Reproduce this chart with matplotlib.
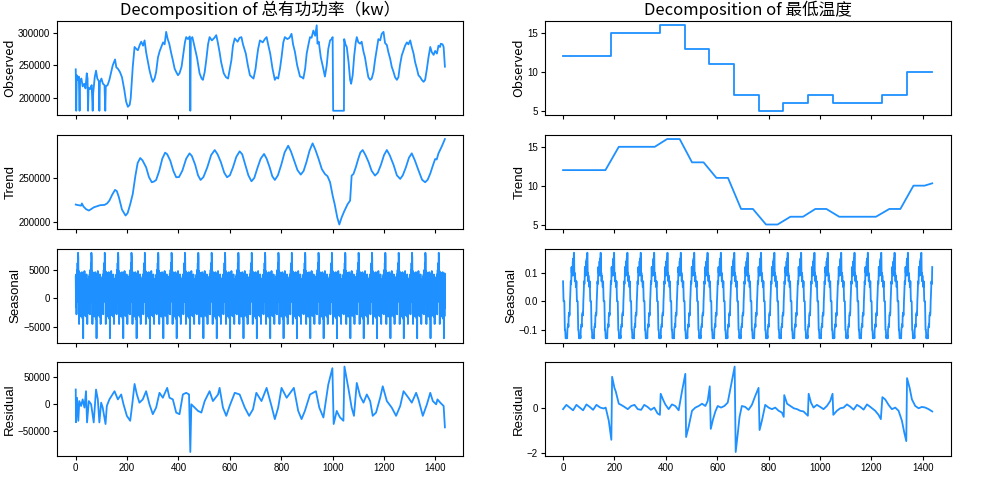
import numpy as np
import matplotlib
matplotlib.use('Agg')
import matplotlib.pyplot as plt

plt.rcParams['font.family'] = ['Liberation Sans', 'Noto Sans CJK SC', 'DejaVu Sans']
plt.rcParams['axes.unicode_minus'] = True
CJK = ['Noto Sans CJK SC', 'DejaVu Sans']
LINE_COLOR = 'dodgerblue'

N = 1438  # 样本数 (15 分钟一个点)
PERIOD = 52

# --- 总有功功率 (kw): 读图得到的关键点 ---
pw_obs_x = [0, 2, 4, 9, 12, 15, 17, 22, 27, 33, 38, 43, 46, 48, 50, 56, 62, 66, 68, 74,
            79, 84, 90, 92, 94, 100, 106, 112, 115, 117, 124, 131, 138, 144, 153, 158, 164, 172, 180, 189,
            196, 203, 210, 214, 222, 229, 236, 242, 250, 255, 262, 268, 274, 281, 287, 294, 300, 307, 313, 320,
            327, 333, 340, 346, 352, 358, 364, 372, 378, 385, 391, 398, 404, 412, 418, 425, 430, 437, 444, 446,
            448, 454, 464, 472, 482, 490, 495, 502, 508, 515, 521, 530, 540, 547, 553, 560, 566, 576, 585, 593,
            600, 606, 612, 619, 630, 638, 645, 651, 662, 670, 678, 686, 692, 700, 704, 710, 717, 728, 736, 743,
            750, 757, 766, 775, 781, 788, 795, 801, 808, 814, 824, 832, 840, 846, 853, 862, 873, 880, 886, 893,
            899, 906, 912, 918, 925, 932, 938, 941, 946, 954, 962, 970, 977, 983, 990, 996, 1000, 1002, 1044, 1045,
            1050, 1055, 1062, 1068, 1072, 1078, 1084, 1090, 1094, 1100, 1107, 1113, 1120, 1126, 1133, 1139, 1146, 1152, 1159, 1165,
            1172, 1178, 1185, 1191, 1198, 1204, 1211, 1217, 1224, 1230, 1237, 1243, 1250, 1256, 1262, 1269, 1276, 1282, 1289, 1295,
            1302, 1308, 1315, 1321, 1328, 1334, 1341, 1347, 1354, 1360, 1367, 1373, 1380, 1386, 1393, 1399, 1406, 1412, 1418, 1421,
            1428, 1432, 1437]
pw_obs_y = [244000, 181000, 235000, 228000, 233000, 181000, 226000, 230000, 218000, 222000, 215000, 238000, 230000, 181000, 216000, 214000, 220000, 181000, 208000, 232000,
            242000, 230000, 226000, 181000, 224000, 230000, 222000, 220000, 181000, 218000, 220000, 228000, 240000, 250000, 259000, 247000, 245000, 240000, 232000, 213000,
            195000, 187000, 190000, 200000, 248000, 278000, 275000, 273000, 282000, 286000, 280000, 288000, 270000, 255000, 243000, 232000, 225000, 230000, 240000, 262000,
            272000, 278000, 285000, 282000, 301000, 290000, 283000, 268000, 258000, 245000, 240000, 235000, 238000, 248000, 265000, 285000, 293000, 290000, 294000, 181000,
            290000, 293000, 276000, 262000, 238000, 230000, 228000, 240000, 258000, 282000, 293000, 288000, 292000, 296000, 285000, 270000, 255000, 238000, 232000, 230000,
            245000, 258000, 280000, 291000, 286000, 292000, 293000, 282000, 268000, 250000, 235000, 232000, 230000, 245000, 258000, 275000, 288000, 285000, 290000, 293000,
            280000, 268000, 245000, 228000, 232000, 230000, 245000, 262000, 285000, 293000, 290000, 292000, 298000, 282000, 271000, 250000, 233000, 232000, 230000, 245000,
            268000, 282000, 293000, 292000, 303000, 295000, 311000, 283000, 286000, 262000, 248000, 233000, 250000, 275000, 288000, 290000, 293000, 181000, 181000, 290000,
            282000, 278000, 255000, 228000, 222000, 235000, 265000, 285000, 293000, 285000, 283000, 286000, 271000, 262000, 245000, 232000, 228000, 230000, 240000, 258000,
            275000, 290000, 288000, 298000, 301000, 284000, 281000, 270000, 260000, 248000, 240000, 232000, 228000, 232000, 250000, 265000, 273000, 280000, 285000, 282000,
            288000, 278000, 268000, 255000, 245000, 235000, 232000, 228000, 225000, 228000, 245000, 262000, 278000, 270000, 266000, 272000, 268000, 280000, 278000, 283000,
            282000, 278000, 248000]

pw_trend_x = [0, 10, 21, 24, 30, 40, 51, 60, 70, 79, 95, 112, 122, 131, 142, 153, 160, 168, 180, 194,
              202, 212, 222, 232, 241, 251, 260, 274, 285, 296, 305, 313, 325, 337, 348, 356, 368, 380, 391, 402,
              415, 430, 443, 452, 465, 476, 486, 497, 512, 527, 541, 552, 565, 578, 589, 600, 612, 625, 638, 648,
              660, 672, 684, 695, 708, 720, 733, 743, 755, 765, 775, 787, 800, 813, 827, 838, 850, 863, 876, 887,
              898, 910, 922, 933, 945, 958, 970, 980, 990, 1000, 1008, 1018, 1026, 1035, 1045, 1058, 1068, 1074, 1081, 1090,
              1100, 1108, 1117, 1128, 1140, 1152, 1165, 1176, 1188, 1200, 1211, 1222, 1237, 1250, 1263, 1273, 1285, 1297, 1308, 1320,
              1335, 1348, 1360, 1370, 1380, 1390, 1399, 1405, 1412, 1425, 1437]
pw_trend_y = [219700, 219000, 218500, 221000, 217500, 214500, 212900, 214500, 216500, 217400, 219000, 219300, 221000, 224200, 231000, 236400, 235000, 228000, 214000, 207200,
              210000, 220000, 231800, 252000, 267000, 272700, 270000, 262100, 251000, 245100, 246000, 247700, 258000, 272000, 278800, 277000, 269700, 258000, 250800, 251000,
              258300, 272000, 278000, 275000, 265000, 253000, 247700, 251000, 262000, 276000, 281800, 277000, 268000, 256000, 250800, 253000, 262000, 274000, 280300, 277000,
              265000, 253000, 246200, 250000, 262000, 272000, 277300, 272000, 262000, 252000, 247700, 253000, 265000, 279000, 286700, 280000, 270000, 259000, 253800, 258000,
              268000, 281000, 289400, 282000, 272000, 260000, 254500, 252000, 245100, 230000, 220000, 205000, 197000, 205000, 212000, 220000, 224200, 252700, 254500, 262000,
              272000, 279000, 281800, 276000, 268000, 258000, 252700, 256000, 265000, 276000, 281800, 276000, 265000, 253000, 248900, 253000, 262000, 273000, 278000, 270000,
              258000, 248000, 245100, 248000, 255000, 264000, 271600, 271000, 278000, 286000, 294300]

# 一个周期 (52 点) 的季节项
pw_seasonal_cycle = [3800, -1500, 4200, -2800, 2500, 5000, -600, 6200, 3000, 8000,
                     7200, 1200, 4800, -4500, 2600, -2200, 4500, -2600, 3600, -1800,
                     4200, -3200, 2800, -1200, 4600, -2400, 3000, -3600, 1800, -7000,
                     2200, -1800, 4400, -3000, 4800, -1400, 3800, -2800, 3400, -2000,
                     2600, -3200, 4200, -1600, 3000, -4500, 2400, -2600, 3400, -1000,
                     2000, 1200]

pw_resid_x = [0, 1, 5, 10, 14, 21, 27, 34, 40, 44, 51, 60, 70, 79, 86, 92, 99, 105, 116, 121,
              131, 151, 164, 177, 186, 199, 212, 220, 229, 238, 248, 261, 274, 287, 300, 313, 326, 339, 356, 365,
              378, 391, 404, 417, 430, 441, 446, 450, 463, 476, 489, 502, 521, 534, 554, 560, 573, 586, 599, 619,
              638, 658, 675, 690, 703, 723, 743, 762, 775, 788, 801, 821, 849, 866, 879, 892, 912, 935, 948, 964,
              983, 999, 1004, 1016, 1022, 1029, 1042, 1046, 1061, 1074, 1083, 1094, 1107, 1120, 1133, 1146, 1156, 1169, 1185, 1195,
              1211, 1230, 1247, 1263, 1276, 1295, 1308, 1325, 1334, 1351, 1367, 1380, 1390, 1403, 1408, 1419, 1432, 1437]
pw_resid_y = [27000, -34000, 11700, -31300, 5500, -3700, 8600, -6700, 23900, -34400, 5500, -600, -34400, 27000, 8600, -34400, 2500, -6700, -37400, -3700,
              8600, 23900, 8600, 17800, -600, -22100, -31300, -600, 37400, 17800, 2500, 8600, 23900, -600, -19000, -6700, 20900, 11700, 30100, 11700,
              8600, -16000, -19000, 17800, 20900, 17800, -89600, -600, -6700, -12900, -16000, 5500, 23900, 5500, 17800, 30100, -6700, -22100, -3700, 20900,
              17800, -6700, -22100, -9800, 20900, 5500, 30100, -3700, -28200, -6700, 30100, 11700, 30100, -12900, -28200, -12900, 17800, 23900, -6700, -25200,
              36200, 66900, -37400, -12900, -19000, -25200, -31300, 69900, 30100, -6700, -22100, 39300, 14700, 2500, 17800, 5500, -22100, -16000, 11700, 33100,
              5500, -6700, -22100, -3700, 23900, 11700, 2500, 20900, 8600, -22100, -600, 20900, 5500, -600, 8600, 2500, -3700, -43600]

# --- 最低温度: 按天的阶梯值 ---
temp_edges = [0, 186, 378, 474, 570, 666, 762, 858, 954, 1050, 1242, 1338, 1437]
temp_levels = [12, 15, 16, 13, 11, 7, 5, 6, 7, 6, 7, 10]

temp_trend_x = [0, 165, 217, 357, 405, 454, 502, 547, 597, 642, 693, 739, 790, 835, 885, 934,
                982, 1025, 1075, 1218, 1270, 1313, 1364, 1407, 1437]
temp_trend_y = [12, 12, 15, 15, 16, 16, 13, 13, 11, 11, 7, 7, 5, 5, 6, 6,
                7, 7, 6, 6, 7, 7, 10, 10, 10.3]

temp_seasonal_cycle = [0.07, 0.03, 0.0, 0.0, 0.0, 0.0, -0.05, -0.10, -0.10, -0.11,
                       -0.13, -0.13, -0.12, -0.13, -0.13, -0.12, -0.13, -0.10, -0.09, -0.09,
                       -0.08, -0.09, -0.05, -0.05, -0.04, -0.05, -0.04, 0.0, 0.02, 0.05,
                       0.07, 0.06, 0.07, 0.12, 0.10, 0.12, 0.12, 0.09, 0.14, 0.10,
                       0.15, 0.11, 0.17, 0.17, 0.09, 0.10, 0.07, 0.09, 0.07, 0.07,
                       0.05, 0.05]

temp_resid_x = [0, 13, 26, 39, 52, 65, 78, 91, 104, 117, 130, 145, 158, 166, 178, 188, 191, 200, 205, 217,
                226, 239, 252, 265, 278, 291, 304, 316, 329, 342, 355, 368, 377, 380, 389, 398, 411, 424, 437, 450,
                454, 463, 476, 479, 489, 502, 515, 528, 541, 554, 563, 571, 575, 584, 593, 602, 615, 628, 641, 651,
                668, 672, 680, 687, 696, 709, 722, 735, 748, 761, 765, 774, 787, 800, 813, 826, 839, 852, 859, 861,
                872, 885, 898, 911, 923, 936, 953, 956, 965, 975, 988, 1001, 1014, 1027, 1040, 1049, 1052, 1066, 1079, 1092,
                1105, 1118, 1131, 1144, 1157, 1170, 1183, 1196, 1215, 1228, 1237, 1243, 1254, 1267, 1280, 1293, 1306, 1319, 1328, 1336,
                1339, 1349, 1358, 1371, 1384, 1397, 1410, 1423, 1437]
temp_resid_y = [-0.07, 0.12, 0.0, -0.12, 0.12, 0.0, -0.12, 0.14, 0.03, -0.10, 0.12, 0.0, -0.04, 0.0, -0.58, -1.42, 1.36, 0.87, 0.72, 0.17,
                0.12, 0.03, -0.07, 0.07, 0.12, -0.07, -0.10, 0.12, 0.03, -0.10, 0.0, -0.26, -0.32, 0.61, 0.36, 0.14, -0.07, 0.14, 0.07, -0.12,
                0.14, 0.72, 1.49, -1.30, -0.84, -0.14, 0.0, 0.07, 0.17, 0.07, 0.29, 0.94, -0.94, -0.51, -0.17, 0.07, 0.0, 0.07, 0.22, 0.80,
                1.81, -1.96, -1.16, -0.41, 0.07, 0.03, -0.10, 0.12, 0.51, 0.87, -0.99, -0.58, 0.12, 0.0, -0.07, 0.0, -0.14, -0.22, -0.41, 0.55,
                0.17, 0.07, -0.03, -0.07, -0.14, -0.17, -0.36, 0.61, 0.22, 0.0, 0.12, 0.03, -0.07, 0.07, 0.29, 0.61, -0.32, -0.14, -0.03, 0.0,
                0.14, 0.04, -0.09, 0.12, 0.03, -0.09, 0.14, 0.03, -0.14, -0.32, -0.51, 0.46, 0.36, 0.12, -0.07, 0.0, -0.14, -0.58, -1.09, -1.48,
                1.30, 0.87, 0.36, 0.07, -0.03, 0.03, 0.0, -0.07, -0.17]

t = np.arange(N)
reps = N // PERIOD + 1
pw_seasonal = np.tile(pw_seasonal_cycle, reps)[:N]
temp_seasonal = np.tile(temp_seasonal_cycle, reps)[:N]

fig, axes = plt.subplots(4, 2, figsize=(9.96, 4.83), dpi=100, sharex='col')
plt.subplots_adjust(left=0.0575, right=0.9545, top=0.9565, bottom=0.0553,
                    wspace=0.2, hspace=0.21)

lw = 1.3
# 左列: 总有功功率
axes[0, 0].plot(pw_obs_x, pw_obs_y, color=LINE_COLOR, lw=lw)
axes[1, 0].plot(pw_trend_x, pw_trend_y, color=LINE_COLOR, lw=lw)
axes[2, 0].plot(t, pw_seasonal, color=LINE_COLOR, lw=lw)
axes[3, 0].plot(pw_resid_x, pw_resid_y, color=LINE_COLOR, lw=lw)

# 右列: 最低温度
axes[0, 1].plot(temp_edges, temp_levels + [temp_levels[-1]], color=LINE_COLOR, lw=lw,
                drawstyle='steps-post')
axes[1, 1].plot(temp_trend_x, temp_trend_y, color=LINE_COLOR, lw=lw)
axes[2, 1].plot(t, temp_seasonal, color=LINE_COLOR, lw=lw)
axes[3, 1].plot(temp_resid_x, temp_resid_y, color=LINE_COLOR, lw=lw)

axes[0, 0].set_title('Decomposition of 总有功功率（kw）', family=CJK, fontsize=12, pad=4)
axes[0, 1].set_title('Decomposition of 最低温度', family=CJK, fontsize=12, pad=4)

row_names = ['Observed', 'Trend', 'Seasonal', 'Residual']
for col in range(2):
    for row in range(4):
        ax = axes[row, col]
        if row == 0:
            ax.set_ylabel(row_names[row], family=CJK, fontsize=9.5, labelpad=1)
        else:
            ax.set_ylabel(row_names[row], fontsize=9.5, labelpad=1)
        ax.tick_params(labelsize=7, length=3, pad=2)

fig.savefig('out.png', dpi=100)
